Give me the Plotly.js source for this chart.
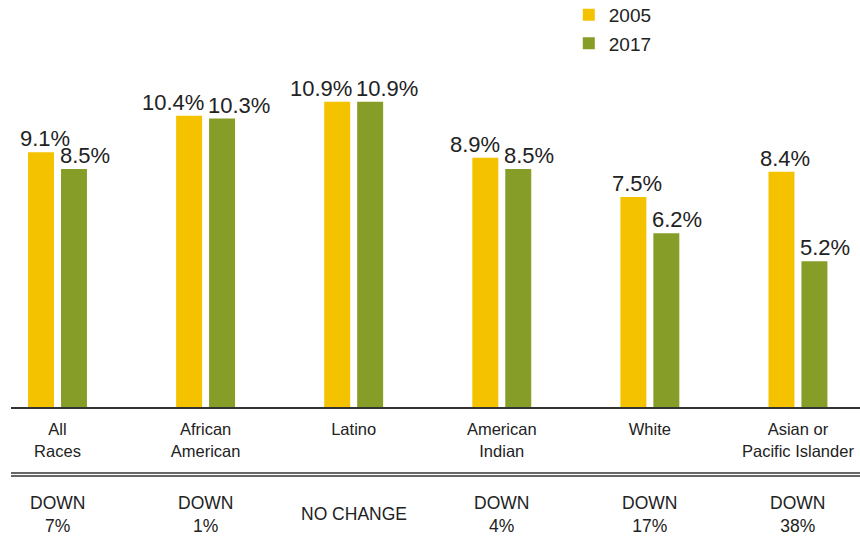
<!DOCTYPE html>
<html>
<head>
<meta charset="utf-8">
<script src="https://cdn.plot.ly/plotly-3.0.1.min.js"></script>
<style>
  html, body { margin: 0; padding: 0; background: #ffffff; }
  #chart { width: 860px; height: 537px; }
</style>
</head>
<body>
<div id="chart"></div>
<script>
// ---- data ----
const categories = ["All<br>Races", "African<br>American", "Latino", "American<br>Indian", "White", "Asian or<br>Pacific Islander"];
const seriesNames = ["2005", "2017"];
const values2005 = [9.1, 10.4, 10.9, 8.9, 7.5, 8.4];
const values2017 = [8.5, 10.3, 10.9, 8.5, 6.2, 5.2];
const changeLabels = ["DOWN<br>7%", "DOWN<br>1%", "NO CHANGE", "DOWN<br>4%", "DOWN<br>17%", "DOWN<br>38%"];

// ---- style ----
const COL2005 = "#F5C200";
const COL2017 = "#869D27";
const TXT = "#222222";
const FONT = "Liberation Sans, Arial, sans-serif";
const BARGAP = 0.555, BGG = 0.212;

const idx = categories.map((c, i) => i);
const slot = (1 - BARGAP) / 2;
const barW = slot * (1 - BGG);

const traces = [
  { type: "bar", name: seriesNames[0], x: idx, y: values2005, marker: { color: COL2005 },
    legendgroup: "a", hoverinfo: "skip" },
  { type: "bar", name: seriesNames[1], x: idx, y: values2017, marker: { color: COL2017 },
    legendgroup: "b", hoverinfo: "skip" }
];

const annotations = [];
idx.forEach(i => {
  const v1 = values2005[i], v2 = values2017[i];
  const right2005 = i - slot / 2 + barW / 2;
  const left2017 = i + slot / 2 - barW / 2;
  const close = Math.abs(v1 - v2) < 0.45;
  annotations.push({
    x: close ? right2005 : (i - slot / 2), xref: "x", y: v1, yref: "y",
    xanchor: close ? "right" : "center", yanchor: "bottom",
    xshift: 4, yshift: -1,
    text: v1.toFixed(1) + "%", showarrow: false,
    font: { family: FONT, size: 22, color: TXT }
  });
  annotations.push({
    x: left2017, xref: "x", y: v2, yref: "y",
    xanchor: "left", yanchor: "bottom", xshift: -3, yshift: -1,
    text: v2.toFixed(1) + "%", showarrow: false,
    font: { family: FONT, size: 22, color: TXT }
  });
  annotations.push({
    x: i, xref: "x", y: -0.309, yref: "paper",
    xanchor: "center", yanchor: "middle",
    text: changeLabels[i], showarrow: false,
    font: { family: FONT, size: 17.5, color: TXT }
  });
});

const layout = {
  width: 860, height: 537,
  margin: { l: 11, r: 0, t: 60, b: 130, autoexpand: false },
  paper_bgcolor: "#ffffff", plot_bgcolor: "#ffffff",
  barmode: "group", bargap: BARGAP, bargroupgap: BGG,
  showlegend: true,
  legend: {
    x: 0.657, y: 1.185, xanchor: "left", yanchor: "top",
    orientation: "v", tracegroupgap: 1,
    font: { family: FONT, size: 19, color: TXT },
    bgcolor: "rgba(0,0,0,0)"
  },
  xaxis: {
    range: [-0.314, 5.419],
    tickmode: "array", tickvals: idx, ticktext: categories,
    ticks: "", showgrid: false, zeroline: false,
    showline: true, linecolor: "#333333", linewidth: 1.5,
    ticklabelstandoff: 7,
    tickfont: { family: FONT, size: 16.5, color: TXT },
    fixedrange: true
  },
  yaxis: {
    range: [0, 12.39],
    visible: false, showgrid: false, zeroline: false, fixedrange: true
  },
  shapes: [
    { type: "line", xref: "paper", yref: "paper", x0: 0, x1: 1, y0: -0.190, y1: -0.190,
      line: { color: "#333333", width: 1.5 } },
    { type: "line", xref: "paper", yref: "paper", x0: 0, x1: 1, y0: -0.199, y1: -0.199,
      line: { color: "#333333", width: 1.5 } }
  ],
  annotations: annotations
};

Plotly.newPlot("chart", traces, layout, { displayModeBar: false, staticPlot: true });
</script>
</body>
</html>
